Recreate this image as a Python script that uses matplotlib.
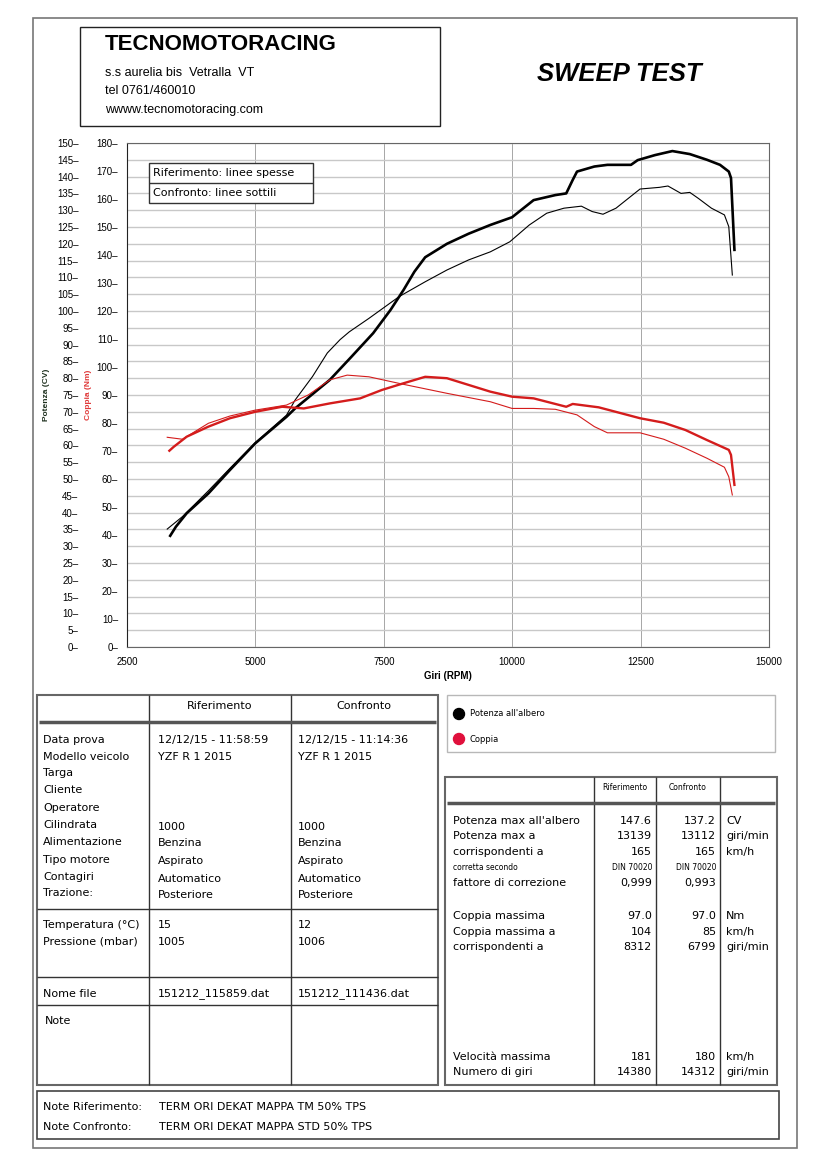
import matplotlib
matplotlib.use("Agg")
import matplotlib.pyplot as plt
from matplotlib.patches import Rectangle, Circle

# curve data (rpm, CV / Nm)
ref_rpm_p = [3341, 3452, 3662, 4085, 4505, 4996, 5605, 5773, 6449, 6871, 7293, 7630, 7886, 8096, 8306,
             8729, 9151, 9573, 9997, 10417, 10840, 11052, 11178, 11262, 11600, 11854, 12313, 12443,
             12780, 13119, 13458, 13793, 14046, 14217, 14260, 14327]
ref_pow = [33.1, 35.8, 39.8, 45.7, 52.7, 60.6, 68.5, 71.0, 79.5, 86.4, 93.4, 100.3, 106.3, 111.7, 116.0,
           120.0, 123.0, 125.6, 127.9, 133.0, 134.5, 135.0, 139.0, 141.5, 143.0, 143.5, 143.5, 144.9,
           146.4, 147.6, 146.7, 145.0, 143.5, 141.5, 139.6, 118.2]

cmp_rpm_p = [3283, 3579, 4085, 4505, 4996, 5605, 5773, 6112, 6400, 6650, 6828, 7210, 7800, 8306, 8729, 9151,
             9573, 9953, 10333, 10672, 11008, 11347, 11557, 11768, 12021, 12489, 12866, 13033, 13287,
             13458, 13626, 13879, 14132, 14217, 14286]
cmp_pow = [35.1, 38.8, 46.5, 53.2, 60.8, 69.0, 73.5, 80.5, 87.5, 91.5, 93.8, 97.8, 104.3, 108.7, 112.2, 115.2,
           117.6, 120.6, 125.6, 129.1, 130.6, 131.2, 129.6, 128.8, 130.6, 136.3, 136.8, 137.2, 135.0,
           135.3, 133.5, 130.6, 128.6, 125.1, 110.7]

ref_rpm_t = [3325, 3410, 3662, 4085, 4505, 4996, 5520, 5942, 6449, 7040, 7463, 7886, 8306, 8729, 9151,
             9573, 9997, 10417, 11052, 11178, 11684, 12489, 12950, 13372, 13793, 14217, 14260, 14327]
ref_trq = [70.1, 71.5, 75.1, 78.7, 81.7, 84.0, 85.8, 85.2, 87.0, 88.8, 91.8, 94.2, 96.5, 96.0, 93.6,
           91.2, 89.4, 88.8, 85.8, 86.8, 85.6, 81.7, 80.1, 77.5, 73.9, 70.4, 68.6, 57.9]

cmp_rpm_t = [3283, 3579, 4085, 4505, 4996, 5605, 6028, 6449, 6787, 7210, 7886, 8729, 9573, 9997, 10417,
             10840, 11262, 11600, 11854, 12489, 12950, 13372, 13793, 14132, 14217, 14286]
cmp_trq = [74.9, 74.2, 79.9, 82.5, 84.6, 86.4, 90.0, 95.4, 97.1, 96.5, 93.8, 90.6, 87.6, 85.2, 85.2,
           84.9, 82.9, 78.7, 76.5, 76.5, 74.2, 71.0, 67.4, 64.2, 60.8, 54.3]

# tables
left_labels = ["Data prova", "Modello veicolo", "Targa", "Cliente", "Operatore", "Cilindrata",
               "Alimentazione", "Tipo motore", "Contagiri", "Trazione:"]
left_ref = ["12/12/15 - 11:58:59", "YZF R 1 2015", "", "", "", "1000", "Benzina", "Aspirato",
            "Automatico", "Posteriore"]
left_cmp = ["12/12/15 - 11:14:36", "YZF R 1 2015", "", "", "", "1000", "Benzina", "Aspirato",
            "Automatico", "Posteriore"]
env_labels = ["Temperatura (°C)", "Pressione (mbar)"]
env_ref = ["15", "1005"]
env_cmp = ["12", "1006"]
files = ["151212_115859.dat", "151212_111436.dat"]

res_labels = ["Potenza max all'albero", "Potenza max a", "corrispondenti a", "corretta secondo",
              "fattore di correzione", "Coppia massima", "Coppia massima a", "corrispondenti a",
              "Velocità massima", "Numero di giri"]
res_ref = ["147.6", "13139", "165", "DIN 70020", "0,999", "97.0", "104", "8312", "181", "14380"]
res_cmp = ["137.2", "13112", "165", "DIN 70020", "0,993", "97.0", "85", "6799", "180", "14312"]
res_unit = ["CV", "giri/min", "km/h", "", "", "Nm", "km/h", "giri/min", "km/h", "giri/min"]

note_ref = "TERM ORI DEKAT MAPPA TM 50% TPS"
note_cmp = "TERM ORI DEKAT MAPPA STD 50% TPS"

arial = ["Liberation Sans", "DejaVu Sans"]
narrow = ["Liberation Sans Narrow", "Liberation Sans", "DejaVu Sans"]
verd = ["DejaVu Sans"]
red = "#d41c1c"

fig = plt.figure(figsize=(8.27, 11.69), dpi=100)

# chart
ax = fig.add_axes([127 / 827, 1 - 647 / 1169, 642 / 827, 504 / 1169])
ax.set_xlim(2500, 15000)
ax.set_ylim(0, 150)
ax.set_yticks(range(0, 151, 5))
ax.set_yticklabels([f"{v}–" for v in range(0, 151, 5)], fontfamily=arial, fontsize=7)
ax.tick_params(axis="y", length=0, pad=35)
ax.set_xticks(range(2500, 15001, 2500))
ax.set_xticklabels([str(v) for v in range(2500, 15001, 2500)], fontfamily=arial, fontsize=7)
ax.set_xticks([2500, 15000], minor=True)
ax.tick_params(axis="x", which="major", length=0, pad=7)
ax.tick_params(axis="x", which="minor", length=4, color="#444444")
ax.grid(axis="y", color="#c8c8c8", lw=1.0)
ax.grid(axis="x", color="#a6a6a6", lw=0.7)
for s in ax.spines.values():
    s.set_color("#666666")
ax.spines["left"].set_color("#222222")
ax.set_xlabel("Giri (RPM)", fontfamily=arial, fontsize=7, fontweight="bold", labelpad=3)
ax.plot(cmp_rpm_p, cmp_pow, color="black", lw=0.8)
ax.plot(ref_rpm_p, ref_pow, color="black", lw=1.9)

ax2 = ax.twinx()
ax2.set_ylim(0, 180)
ax2.yaxis.tick_left()
ax2.set_yticks(range(0, 181, 10))
ax2.set_yticklabels([f"{v}–" for v in range(0, 181, 10)], fontfamily=arial, fontsize=7)
ax2.tick_params(axis="y", length=0, pad=6.5)
for s in ax2.spines.values():
    s.set_visible(False)
ax2.plot(cmp_rpm_t, cmp_trq, color=red, lw=0.8)
ax2.plot(ref_rpm_t, ref_trq, color=red, lw=1.7)

# overlay in pixel coords
ov = fig.add_axes([0, 0, 1, 1], zorder=5)
ov.set_xlim(0, 827)
ov.set_ylim(1169, 0)
ov.patch.set_alpha(0)
ov.axis("off")


def box(x0, y0, x1, y1, ec="#333333", lw=1.0, fc="none"):
    ov.add_patch(Rectangle((x0, y0), x1 - x0, y1 - y0, fill=(fc != "none"), fc=fc, ec=ec, lw=lw))


def hline(y, x0, x1, c="#333333", lw=1.0):
    ov.plot([x0, x1], [y, y], color=c, lw=lw, solid_capstyle="butt")


def vline(x, y0, y1, c="#333333", lw=1.0):
    ov.plot([x, x], [y0, y1], color=c, lw=lw, solid_capstyle="butt")


def txt(x, y, s, size=8, fam=verd, ha="left", **kw):
    ov.text(x, y, s, fontsize=size, fontfamily=fam, ha=ha, va="center", **kw)


# page frame and header
box(33, 18, 797, 1148, ec="#777777", lw=1.2)
box(80, 27, 440, 126, ec="#222222", lw=1.0)
txt(105, 45, "TECNOMOTORACING", size=16, fam=arial, fontweight="bold")
txt(105, 73, "s.s aurelia bis  Vetralla  VT", size=9, fam=narrow)
txt(105, 91, "tel 0761/460010", size=9, fam=narrow)
txt(105, 110, "wwww.tecnomotoracing.com", size=9, fam=narrow)
txt(537, 74, "SWEEP TEST", size=18.5, fam=narrow, fontweight="bold", fontstyle="italic")

# axis titles
txt(46, 395, "Potenza (CV)", size=6, fam=arial, ha="center", rotation=90, fontweight="bold",
    color="#1e301e")
txt(89, 395, "Coppia (Nm)", size=6, fam=arial, ha="center", rotation=90, fontweight="bold",
    color="#e03a3a")

# chart legend
box(149, 163, 313, 203, ec="#333333", lw=1.0, fc="white")
hline(183, 149, 313)
txt(153, 173, "Riferimento: linee spesse", size=8)
txt(153, 193, "Confronto: linee sottili", size=8)

# left table
box(37, 695, 438, 1085, ec="#666666", lw=1.5)
vline(149, 695, 1085)
vline(291, 695, 1085)
hline(722, 39, 436, c="#555555", lw=2.5)
txt(220, 706, "Riferimento", ha="center")
txt(364, 706, "Confronto", ha="center")
row_y = [740, 757, 773, 790, 808, 825, 842, 860, 877, 893]
for i, lab in enumerate(left_labels):
    txt(43, row_y[i], lab)
    dy = 1.5 if i >= 5 else 0
    txt(158, row_y[i] + dy, left_ref[i])
    txt(298, row_y[i] + dy, left_cmp[i])
hline(909, 37, 438)
for i, lab in enumerate(env_labels):
    txt(43, 925 + 17 * i, lab)
    txt(158, 925 + 17 * i, env_ref[i])
    txt(298, 925 + 17 * i, env_cmp[i])
hline(977, 37, 438)
txt(43, 994, "Nome file")
txt(158, 994, files[0])
txt(298, 994, files[1])
hline(1005, 37, 438)
txt(45, 1021, "Note")

# legend of series
box(447, 695, 775, 752, ec="#b8b8b8", lw=1.0)
ov.add_patch(Circle((459, 714), 5.5, color="black"))
ov.add_patch(Circle((459, 739), 5.5, color="#e0103c"))
txt(470, 714, "Potenza all'albero", size=6)
txt(470, 739, "Coppia", size=6)

# right table
box(445, 777, 777, 1085, ec="#666666", lw=1.5)
for xv in (594, 656, 720):
    vline(xv, 777, 1085)
hline(803, 447, 775, c="#555555", lw=2.5)
txt(625, 787, "Riferimento", size=5.5, ha="center")
txt(688, 787, "Confronto", size=5.5, ha="center")
res_y = [821, 836, 852, 867, 883, 916, 932, 947, 1057, 1072]
for i, lab in enumerate(res_labels):
    sz = 5.5 if i == 3 else 8
    txt(453, res_y[i], lab, size=sz)
    txt(652, res_y[i], res_ref[i], size=sz, ha="right")
    txt(716, res_y[i], res_cmp[i], size=sz, ha="right")
    txt(726, res_y[i], res_unit[i], size=sz)

# notes
box(37, 1091, 779, 1139, ec="#444444", lw=1.2)
txt(43, 1107, "Note Riferimento:")
txt(159, 1107, note_ref)
txt(43, 1127, "Note Confronto:")
txt(159, 1127, note_cmp)

fig.savefig("out.png", dpi=100, facecolor="white")
